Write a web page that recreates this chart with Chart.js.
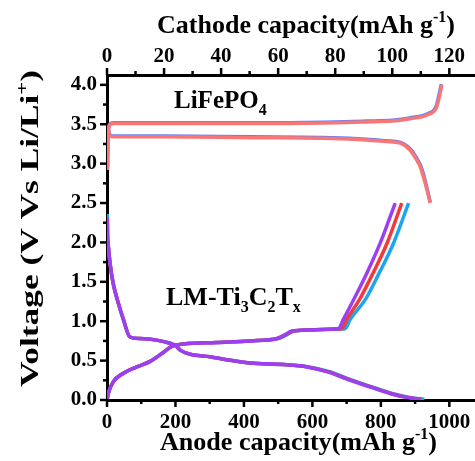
<!DOCTYPE html>
<html>
<head>
<meta charset="utf-8">
<script src="https://cdn.jsdelivr.net/npm/chart.js@4/dist/chart.umd.min.js"></script>
<style>
  html, body { margin: 0; padding: 0; background: #fff; }
  canvas { display: block; }
</style>
</head>
<body>
<canvas id="chart" width="475" height="461"></canvas>
<script>
// anode LM-Ti3C2Tx (bottom axis, mAh/g) - discharge
const purpleDisCap = [1, 1.5, 3, 9, 18, 33, 48, 67, 96, 145, 184, 200, 215, 243, 301, 350, 418, 516, 584, 642, 711, 779, 837, 880, 915];
const purpleDisV   = [2.30, 2.10, 1.99, 1.73, 1.48, 1.23, 1.02, 0.80, 0.78, 0.76, 0.72, 0.69, 0.63, 0.58, 0.55, 0.51, 0.47, 0.45, 0.42, 0.36, 0.25, 0.15, 0.07, 0.03, 0.01];
const redDisCap    = [1, 1.5, 3, 9, 18, 33, 48, 67, 96, 145, 184, 200, 215, 243, 301, 350, 418, 516, 586, 645, 714, 782, 840, 883, 918];
const redDisV      = [2.32, 2.10, 1.99, 1.73, 1.48, 1.23, 1.02, 0.80, 0.78, 0.76, 0.72, 0.69, 0.63, 0.58, 0.55, 0.51, 0.47, 0.45, 0.42, 0.36, 0.25, 0.15, 0.07, 0.03, 0.01];
const cyanDisCap   = [1, 1.5, 3, 9, 18, 33, 48, 67, 96, 145, 184, 200, 215, 243, 301, 350, 418, 518, 590, 650, 718, 786, 845, 888, 927];
const cyanDisV     = [2.36, 2.12, 2.00, 1.74, 1.48, 1.23, 1.02, 0.80, 0.78, 0.76, 0.72, 0.69, 0.63, 0.58, 0.55, 0.51, 0.47, 0.45, 0.42, 0.36, 0.25, 0.15, 0.07, 0.03, 0.01];
// anode - charge
const purpleChgCap = [1, 4, 18, 48, 87, 126, 160, 189, 223, 320, 418, 496, 516, 540, 584, 662, 677, 690, 720, 759, 798, 842];
const purpleChgV   = [0.02, 0.085, 0.23, 0.34, 0.42, 0.49, 0.59, 0.68, 0.71, 0.73, 0.75, 0.78, 0.82, 0.875, 0.89, 0.90, 0.91, 1.02, 1.27, 1.61, 1.99, 2.50];
const redChgCap    = [1, 4, 18, 48, 87, 126, 160, 189, 223, 320, 418, 498, 518, 543, 588, 672, 687, 700, 737, 777, 818, 861];
const redChgV      = [0.02, 0.085, 0.23, 0.34, 0.42, 0.49, 0.59, 0.68, 0.71, 0.73, 0.75, 0.78, 0.82, 0.875, 0.89, 0.90, 0.91, 1.02, 1.27, 1.61, 1.99, 2.50];
const cyanChgCap   = [1, 4, 18, 48, 87, 126, 160, 189, 223, 320, 418, 500, 522, 546, 592, 682, 697, 710, 754, 795, 837, 881];
const cyanChgV     = [0.02, 0.085, 0.23, 0.34, 0.42, 0.49, 0.59, 0.68, 0.71, 0.73, 0.75, 0.78, 0.82, 0.875, 0.89, 0.90, 0.91, 1.02, 1.27, 1.61, 1.99, 2.50];

// cathode LiFePO4 (top axis, mAh/g) - charge
const redCathChgCap  = [0.2, 0.3, 0.6, 1.2, 2.5, 10, 30, 56, 80, 91, 100, 102.8, 106.3, 111, 113, 114.5, 115.6, 116.5, 117.4];
const redCathChgV    = [2.92, 3.20, 3.45, 3.50, 3.51, 3.51, 3.51, 3.51, 3.52, 3.53, 3.54, 3.55, 3.57, 3.60, 3.63, 3.66, 3.72, 3.85, 4.00];
const blueCathChgCap = [0.2, 0.3, 0.6, 1.2, 2.5, 10, 30, 56, 80, 91, 100, 102.5, 106, 110.7, 112.8, 114.3, 115.4, 116.3, 117.2];
const blueCathChgV   = [2.95, 3.22, 3.46, 3.51, 3.52, 3.52, 3.52, 3.52, 3.53, 3.54, 3.55, 3.56, 3.58, 3.61, 3.64, 3.67, 3.73, 3.86, 4.01];
// cathode - discharge
const redCathDisCap  = [0.3, 0.6, 1.2, 2.5, 20, 50, 79, 91, 98, 102.8, 106.3, 108.5, 109.8, 111, 112.2, 113.3];
const redCathDisV    = [3.47, 3.40, 3.35, 3.34, 3.34, 3.33, 3.32, 3.30, 3.28, 3.26, 3.17, 3.05, 2.96, 2.82, 2.66, 2.50];
const blueCathDisCap = [0.3, 0.6, 1.2, 2.5, 20, 50, 79, 91, 98, 102.8, 106.5, 108.7, 110, 111.2, 112.3, 113.3];
const blueCathDisV   = [3.48, 3.41, 3.36, 3.35, 3.35, 3.34, 3.33, 3.31, 3.29, 3.27, 3.18, 3.06, 2.97, 2.83, 2.67, 2.51];

// axis ticks (every entry gets a tick mark, labelled ones are the major ones)
const anodeTicks    = [0, 100, 200, 300, 400, 500, 600, 700, 800, 900, 1000];
const anodeLabels   = [0, 200, 400, 600, 800, 1000];
const cathodeTicks  = [0, 10, 20, 30, 40, 50, 60, 70, 80, 90, 100, 110, 120];
const cathodeLabels = [0, 20, 40, 60, 80, 100, 120];
const voltTicks     = [0, 0.25, 0.5, 0.75, 1, 1.25, 1.5, 1.75, 2, 2.25, 2.5, 2.75, 3, 3.25, 3.5, 3.75, 4];
const voltLabels    = [0, 0.5, 1, 1.5, 2, 2.5, 3, 3.5, 4];
const anodeMax = 1075, cathodeMax = 129, voltMax = 4.125;

const serif = '"Liberation Serif", "Times New Roman", serif';
const pts = (xs, ys) => xs.map((x, i) => ({ x: x, y: ys[i] }));

function line(xs, ys, color, axis) {
  return {
    data: pts(xs, ys),
    xAxisID: axis,
    yAxisID: 'y',
    borderColor: color,
    borderWidth: 3.5,
    pointRadius: 0,
    cubicInterpolationMode: 'monotone',
    fill: false
  };
}

function runFont(size, mode) {
  return 'bold ' + (mode ? Math.round(size * 0.62) : size) + 'px ' + serif;
}

// draw text pieces with sub/superscripts, optionally stretched to a width
function drawRuns(ctx, runs, x, y, size, targetW) {
  let w = 0;
  runs.forEach(([t, m]) => { ctx.font = runFont(size, m); w += ctx.measureText(t).width; });
  const k = targetW ? targetW / w : 1;
  ctx.save();
  ctx.translate(x, y);
  ctx.scale(k, 1);
  let cx = 0;
  runs.forEach(([t, m]) => {
    ctx.font = runFont(size, m);
    const dy = m === 1 ? -size * 0.42 : m === -1 ? size * 0.28 : 0;
    ctx.fillText(t, cx, dy);
    cx += ctx.measureText(t).width;
  });
  ctx.restore();
}

const tickMarks = {
  id: 'tickMarks',
  afterDraw(chart) {
    const ctx = chart.ctx;
    ctx.save();
    ctx.strokeStyle = '#000';
    ctx.lineWidth = 2.5;
    ['x', 'x2', 'y'].forEach(id => {
      const s = chart.scales[id];
      s.ticks.forEach(t => {
        const len = t.label !== '' ? 7 : 4;
        const p = s.getPixelForValue(t.value);
        ctx.beginPath();
        if (id === 'y') { ctx.moveTo(s.right, p); ctx.lineTo(s.right - len, p); }
        else if (id === 'x') { ctx.moveTo(p, s.top); ctx.lineTo(p, s.top + len); }
        else { ctx.moveTo(p, s.bottom); ctx.lineTo(p, s.bottom - len); }
        ctx.stroke();
      });
    });
    ctx.restore();
  }
};

const labels = {
  id: 'labels',
  afterDraw(chart) {
    const ctx = chart.ctx;
    ctx.save();
    ctx.fillStyle = '#000';
    ctx.textBaseline = 'alphabetic';
    drawRuns(ctx, [['Cathode capacity(mAh g', 0], ['-1', 1], [')', 0]], 157, 33, 26, 298);
    drawRuns(ctx, [['Anode capacity(mAh g', 0], ['-1', 1], [')', 0]], 160, 450, 26, 277);
    drawRuns(ctx, [['LiFePO', 0], ['4', -1]], 174, 108, 25);
    drawRuns(ctx, [['LM-Ti', 0], ['3', -1], ['C', 0], ['2', -1], ['T', 0], ['x', -1]], 166, 305, 26);
    ctx.save();
    ctx.translate(38, 387);
    ctx.rotate(-Math.PI / 2);
    drawRuns(ctx, [['Voltage (V Vs Li/Li', 0], ['+', 1], [')', 0]], 0, 0, 25, 317);
    ctx.restore();
    ctx.restore();
  }
};

const tickFont = { family: serif, weight: 'bold', size: 21 };

function axis(position, max, tickVals, labelVals, digits, pad, fit) {
  return {
    type: 'linear', position: position, min: 0, max: max, bounds: 'data',
    border: { color: '#000', width: 3 },
    grid: { display: false, drawTicks: false },
    afterBuildTicks: s => { s.ticks = tickVals.map(v => ({ value: v })); },
    ticks: {
      autoSkip: false, maxRotation: 0, padding: pad,
      color: '#000', font: tickFont,
      callback: v => labelVals.some(l => Math.abs(l - v) < 1e-9) ? v.toFixed(digits) : ''
    },
    afterFit: fit
  };
}

// the plot runs off the right edge, so no room is kept for the last label
function fitX(h) {
  return s => { s.height = h; s.paddingLeft = 0; s.paddingRight = 0; };
}

new Chart(document.getElementById('chart'), {
  type: 'line',
  data: {
    datasets: [
      line(purpleDisCap, purpleDisV, '#9b3ff0', 'x'),
      line(purpleChgCap, purpleChgV, '#9b3ff0', 'x'),
      line(redDisCap, redDisV, '#f23a3a', 'x'),
      line(redChgCap, redChgV, '#f23a3a', 'x'),
      line(cyanDisCap, cyanDisV, '#1ea5f0', 'x'),
      line(cyanChgCap, cyanChgV, '#1ea5f0', 'x'),
      line(redCathChgCap, redCathChgV, '#f87676', 'x2'),
      line(redCathDisCap, redCathDisV, '#f87676', 'x2'),
      line(blueCathChgCap, blueCathChgV, '#6a7cf5', 'x2'),
      line(blueCathDisCap, blueCathDisV, '#6a7cf5', 'x2')
    ]
  },
  options: {
    responsive: false,
    animation: false,
    layout: { padding: 0 },
    plugins: { legend: { display: false }, tooltip: { enabled: false } },
    scales: {
      x: axis('bottom', anodeMax, anodeTicks, anodeLabels, 0, 10, fitX(61)),
      x2: axis('top', cathodeMax, cathodeTicks, cathodeLabels, 0, 6, fitX(75)),
      y: axis('left', voltMax, voltTicks, voltLabels, 1, 10, s => { s.width = 107; })
    }
  },
  plugins: [tickMarks, labels]
});
</script>
</body>
</html>
